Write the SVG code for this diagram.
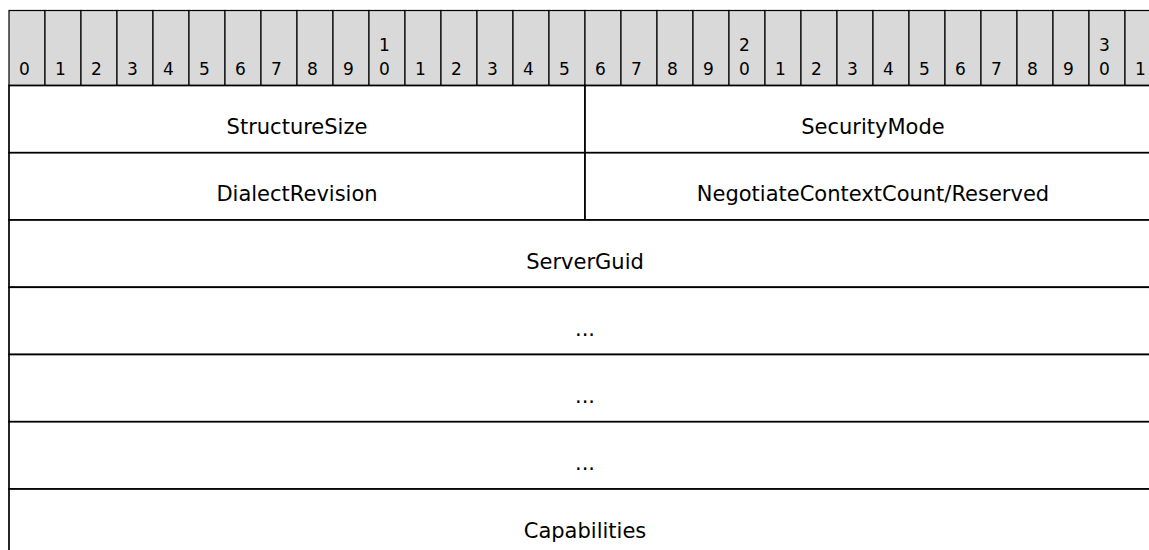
<svg xmlns="http://www.w3.org/2000/svg" width="1149" height="550" viewBox="0 0 1149 550">
<style>
.hdr{fill:#d9d9d9;stroke:#000;stroke-width:1.2}
.cell{fill:#fff;stroke:#000;stroke-width:1.7}
.bit{font-family:"DejaVu Sans",Verdana,sans-serif;font-size:17px;fill:#000}
.lbl{font-family:"DejaVu Sans",Verdana,sans-serif;font-size:21px;fill:#000;text-anchor:middle}
</style>
<g id="header">
<rect class="hdr" x="9" y="10.5" width="36" height="75"/><rect class="hdr" x="45" y="10.5" width="36" height="75"/><rect class="hdr" x="81" y="10.5" width="36" height="75"/><rect class="hdr" x="117" y="10.5" width="36" height="75"/><rect class="hdr" x="153" y="10.5" width="36" height="75"/><rect class="hdr" x="189" y="10.5" width="36" height="75"/><rect class="hdr" x="225" y="10.5" width="36" height="75"/><rect class="hdr" x="261" y="10.5" width="36" height="75"/><rect class="hdr" x="297" y="10.5" width="36" height="75"/><rect class="hdr" x="333" y="10.5" width="36" height="75"/><rect class="hdr" x="369" y="10.5" width="36" height="75"/><rect class="hdr" x="405" y="10.5" width="36" height="75"/><rect class="hdr" x="441" y="10.5" width="36" height="75"/><rect class="hdr" x="477" y="10.5" width="36" height="75"/><rect class="hdr" x="513" y="10.5" width="36" height="75"/><rect class="hdr" x="549" y="10.5" width="36" height="75"/><rect class="hdr" x="585" y="10.5" width="36" height="75"/><rect class="hdr" x="621" y="10.5" width="36" height="75"/><rect class="hdr" x="657" y="10.5" width="36" height="75"/><rect class="hdr" x="693" y="10.5" width="36" height="75"/><rect class="hdr" x="729" y="10.5" width="36" height="75"/><rect class="hdr" x="765" y="10.5" width="36" height="75"/><rect class="hdr" x="801" y="10.5" width="36" height="75"/><rect class="hdr" x="837" y="10.5" width="36" height="75"/><rect class="hdr" x="873" y="10.5" width="36" height="75"/><rect class="hdr" x="909" y="10.5" width="36" height="75"/><rect class="hdr" x="945" y="10.5" width="36" height="75"/><rect class="hdr" x="981" y="10.5" width="36" height="75"/><rect class="hdr" x="1017" y="10.5" width="36" height="75"/><rect class="hdr" x="1053" y="10.5" width="36" height="75"/><rect class="hdr" x="1089" y="10.5" width="36" height="75"/><rect class="hdr" x="1125" y="10.5" width="36" height="75"/>
<text class="bit" x="19" y="75.3">0</text><text class="bit" x="55" y="75.3">1</text><text class="bit" x="91" y="75.3">2</text><text class="bit" x="127" y="75.3">3</text><text class="bit" x="163" y="75.3">4</text><text class="bit" x="199" y="75.3">5</text><text class="bit" x="235" y="75.3">6</text><text class="bit" x="271" y="75.3">7</text><text class="bit" x="307" y="75.3">8</text><text class="bit" x="343" y="75.3">9</text>
<text class="bit" x="379" y="51">1</text><text class="bit" x="379" y="75.3">0</text>
<text class="bit" x="415" y="75.3">1</text><text class="bit" x="451" y="75.3">2</text><text class="bit" x="487" y="75.3">3</text><text class="bit" x="523" y="75.3">4</text><text class="bit" x="559" y="75.3">5</text><text class="bit" x="595" y="75.3">6</text><text class="bit" x="631" y="75.3">7</text><text class="bit" x="667" y="75.3">8</text><text class="bit" x="703" y="75.3">9</text>
<text class="bit" x="739" y="51">2</text><text class="bit" x="739" y="75.3">0</text>
<text class="bit" x="775" y="75.3">1</text><text class="bit" x="811" y="75.3">2</text><text class="bit" x="847" y="75.3">3</text><text class="bit" x="883" y="75.3">4</text><text class="bit" x="919" y="75.3">5</text><text class="bit" x="955" y="75.3">6</text><text class="bit" x="991" y="75.3">7</text><text class="bit" x="1027" y="75.3">8</text><text class="bit" x="1063" y="75.3">9</text>
<text class="bit" x="1099" y="51">3</text><text class="bit" x="1099" y="75.3">0</text>
<text class="bit" x="1135" y="75.3">1</text>
</g>
<g id="StructureSize"><rect class="cell" x="9" y="85.5" width="576" height="67.25"/><text class="lbl" x="297" y="134">StructureSize</text></g>
<g id="SecurityMode"><rect class="cell" x="585" y="85.5" width="576" height="67.25"/><text class="lbl" x="873" y="134">SecurityMode</text></g>
<g id="DialectRevision"><rect class="cell" x="9" y="152.75" width="576" height="67.25"/><text class="lbl" x="297" y="201.25">DialectRevision</text></g>
<g id="NegotiateContextCount"><rect class="cell" x="585" y="152.75" width="576" height="67.25"/><text class="lbl" x="873" y="201.25">NegotiateContextCount/Reserved</text></g>
<g id="ServerGuid"><rect class="cell" x="9" y="220" width="1152" height="67.25"/><text class="lbl" x="585" y="268.5">ServerGuid</text></g>
<g id="ServerGuid2"><rect class="cell" x="9" y="287.25" width="1152" height="67.25"/><text class="lbl" x="585" y="335.75">...</text></g>
<g id="ServerGuid3"><rect class="cell" x="9" y="354.5" width="1152" height="67.25"/><text class="lbl" x="585" y="403">...</text></g>
<g id="ServerGuid4"><rect class="cell" x="9" y="421.75" width="1152" height="67.25"/><text class="lbl" x="585" y="470.25">...</text></g>
<g id="Capabilities"><rect class="cell" x="9" y="489" width="1152" height="67.25"/><text class="lbl" x="585" y="537.5">Capabilities</text></g>
<g id="connectors"></g>
</svg>
